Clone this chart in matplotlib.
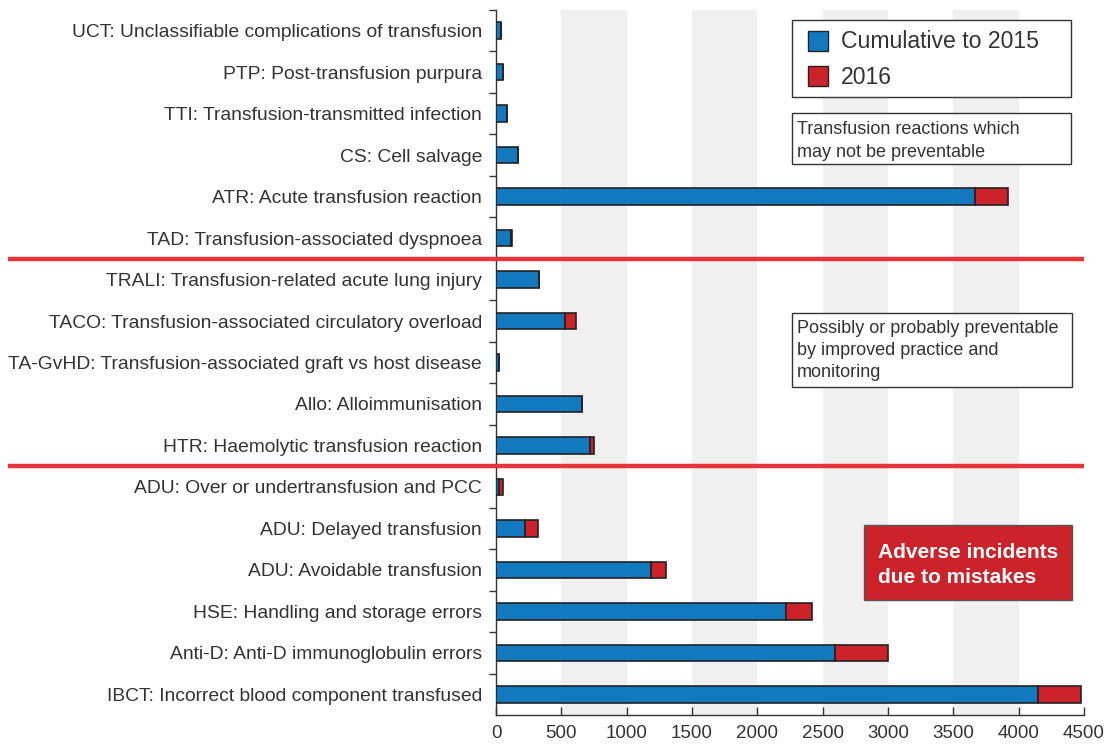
import matplotlib
matplotlib.use("Agg")
import matplotlib.pyplot as plt
from matplotlib.patches import Rectangle
from matplotlib.transforms import blended_transform_factory

plt.rcParams['font.family'] = ['Liberation Sans', 'DejaVu Sans']

categories = [
    "UCT: Unclassifiable complications of transfusion",
    "PTP: Post-transfusion purpura",
    "TTI: Transfusion-transmitted infection",
    "CS: Cell salvage",
    "ATR: Acute transfusion reaction",
    "TAD: Transfusion-associated dyspnoea",
    "TRALI: Transfusion-related acute lung injury",
    "TACO: Transfusion-associated circulatory overload",
    "TA-GvHD: Transfusion-associated graft vs host disease",
    "Allo: Alloimmunisation",
    "HTR: Haemolytic transfusion reaction",
    "ADU: Over or undertransfusion and PCC",
    "ADU: Delayed transfusion",
    "ADU: Avoidable transfusion",
    "HSE: Handling and storage errors",
    "Anti-D: Anti-D immunoglobulin errors",
    "IBCT: Incorrect blood component transfused",
]
cumulative_2015 = [40, 55, 85, 170, 3667, 115, 331, 525, 20, 655, 716, 25, 219, 1187, 2222, 2594, 4146]
year_2016 = [0, 0, 0, 0, 253, 10, 0, 87, 0, 0, 36, 29, 102, 113, 194, 408, 334]
xticks = [0, 500, 1000, 1500, 2000, 2500, 3000, 3500, 4000, 4500]
legend_labels = ["Cumulative to 2015", "2016"]

BLUE = "#1279BF"
RED = "#CC2229"
EDGE = "#222222"
TXT = "#333333"
LINE_RED = "#E8333A"

W, H = 1107, 747
fig = plt.figure(figsize=(W / 100, H / 100), dpi=100)
ax = fig.add_axes([496 / W, 32 / H, (1084 - 496) / W, (715 - 10) / H])

# grey bands
for a in range(500, 4500, 1000):
    ax.axvspan(a, a + 500, color="#F0F0F0", zorder=0, lw=0)

y = list(range(len(categories)))
ax.barh(y, cumulative_2015, height=0.4, color=BLUE, edgecolor=EDGE, linewidth=1.2, zorder=3)
ax.barh(y, year_2016, left=cumulative_2015, height=0.4, color=RED, edgecolor=EDGE, linewidth=1.2, zorder=3)

ax.set_xlim(0, 4500)
ax.set_ylim(len(categories) - 0.5, -0.5)

ax.set_yticks(y)
ax.set_yticklabels(categories, fontsize=13.9, color=TXT)
ax.set_yticks([i + 0.5 for i in range(-1, len(categories) - 1)], minor=True)
ax.tick_params(axis="y", which="major", length=0, pad=10)
ax.tick_params(axis="y", which="minor", length=5, direction="out", color="#333333", width=1)

ax.set_xticks(xticks)
ax.set_xticklabels([str(t) for t in xticks], fontsize=13.5, color=TXT)
ax.tick_params(axis="x", which="major", length=6, direction="in", color="#333333", width=1, pad=7)

for s in ["top", "right"]:
    ax.spines[s].set_visible(False)
for s in ["left", "bottom"]:
    ax.spines[s].set_color("#333333")
    ax.spines[s].set_linewidth(1)

# red separators
tr = blended_transform_factory(fig.transFigure, ax.transData)
for yy in [5.5, 10.5]:
    ax.plot([8 / W, 1084 / W], [yy, yy], transform=tr, color=LINE_RED, lw=3.2,
            clip_on=False, zorder=5, solid_capstyle="butt")


def fig_box(x0, y0, x1, y1, fc, ec, lw=1):
    fig.add_artist(Rectangle((x0 / W, 1 - y1 / H), (x1 - x0) / W, (y1 - y0) / H,
                             transform=fig.transFigure, facecolor=fc, edgecolor=ec,
                             linewidth=lw, zorder=6))


# legend (manual)
fig_box(792, 20, 1071, 97, "white", "#333333")
for i, (lab, col) in enumerate(zip(legend_labels, [BLUE, RED])):
    cy = 41 + 35 * i
    fig_box(808, cy - 10, 828, cy + 10, col, EDGE)
    fig.text(841 / W, 1 - (cy + 1) / H, lab, fontsize=16.6, color=TXT, va="center",
             ha="left", zorder=7)

fig_box(792, 113, 1071, 164, "white", "#333333")
fig.text(797 / W, 1 - 121 / H, "Transfusion reactions which\nmay not be preventable",
         fontsize=13, color=TXT, va="top", ha="left", linespacing=1.45, zorder=7)

fig_box(792, 313, 1072, 387, "white", "#333333")
fig.text(797 / W, 1 - 320 / H, "Possibly or probably preventable\nby improved practice and\nmonitoring",
         fontsize=13, color=TXT, va="top", ha="left", linespacing=1.4, zorder=7)

fig_box(864, 525, 1072, 600, RED, "#555555")
fig.text(878 / W, 1 - 543 / H, "Adverse incidents\ndue to mistakes",
         fontsize=15, color="white", fontweight="bold", va="top", ha="left",
         linespacing=1.4, zorder=7)

fig.savefig("out.png", dpi=100)
